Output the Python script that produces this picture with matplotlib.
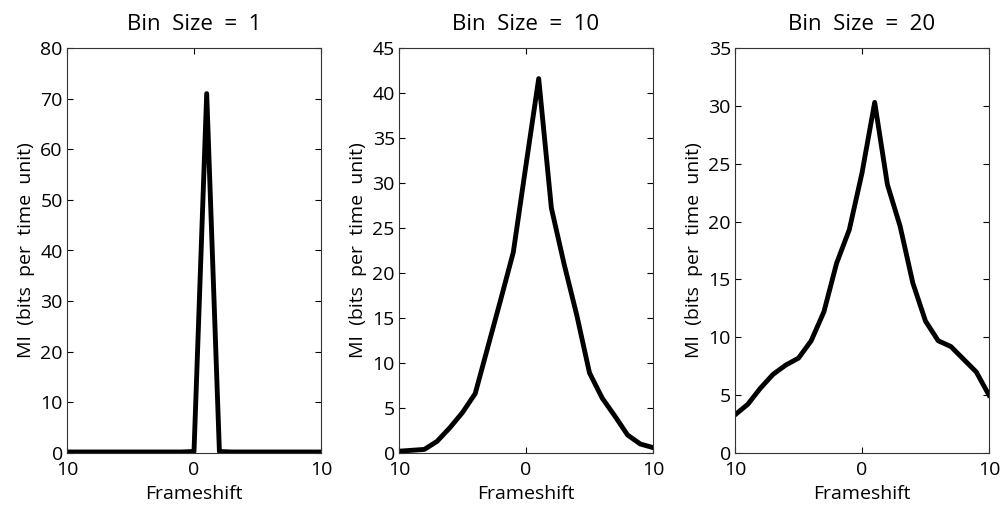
import numpy as np
import matplotlib
matplotlib.use("Agg")
import matplotlib.pyplot as plt

plt.rcParams["font.family"] = ["Open Sans", "DejaVu Sans"]

# Frame shifts -10 .. 10
shifts = list(range(-10, 11))

# MI values
mi_bin1 = [0.2, 0.2, 0.2, 0.2, 0.2, 0.2, 0.2, 0.2, 0.2, 0.2, 0.3,
           71.0, 0.3, 0.2, 0.2, 0.2, 0.2, 0.2, 0.2, 0.2, 0.2]
mi_bin10 = [0.2, 0.3, 0.4, 1.3, 2.8, 4.5, 6.6, 11.8, 17.0, 22.3, 32.0,
            41.6, 27.2, 21.0, 15.3, 8.9, 6.1, 4.1, 2.0, 1.0, 0.6]
mi_bin20 = [3.3, 4.2, 5.6, 6.8, 7.6, 8.2, 9.7, 12.2, 16.4, 19.3, 24.2,
            30.3, 23.2, 19.6, 14.7, 11.4, 9.7, 9.2, 8.1, 7.0, 5.0]

titles = ["Bin  Size  =  1", "Bin  Size  =  10", "Bin  Size  =  20"]
y_max = [80, 45, 35]
y_step = [10, 5, 5]
series = [mi_bin1, mi_bin10, mi_bin20]

fig = plt.figure(figsize=(10.03, 5.08), dpi=100)
lefts = [67, 399, 735]
width = 254
bottom = 508 - 453
height = 453 - 48

for i in range(3):
    ax = fig.add_axes([lefts[i] / 1003, bottom / 508, width / 1003, height / 508])
    ax.plot(shifts, series[i], color="black", linewidth=3.5, solid_joinstyle="round")
    ax.set_xlim(-10, 10)
    ax.set_ylim(0, y_max[i])
    ax.set_xticks([-10, 0, 10])
    ax.set_xticklabels(["10", "0", "10"])
    ax.set_yticks(np.arange(0, y_max[i] + 1, y_step[i]))
    ax.tick_params(direction="in", top=True, right=True, labelsize=14, length=4)
    ax.tick_params(axis="x", pad=6)
    ax.tick_params(axis="y", pad=3)
    ax.set_title(titles[i], fontsize=16, pad=13)
    ax.set_xlabel("Frameshift", fontsize=14, labelpad=4)
    ax.set_ylabel("MI  (bits  per  time  unit)", fontsize=14, labelpad=4)
    for s in ax.spines.values():
        s.set_linewidth(0.8)
        s.set_color("#333333")

plt.savefig("out.png", dpi=100)
